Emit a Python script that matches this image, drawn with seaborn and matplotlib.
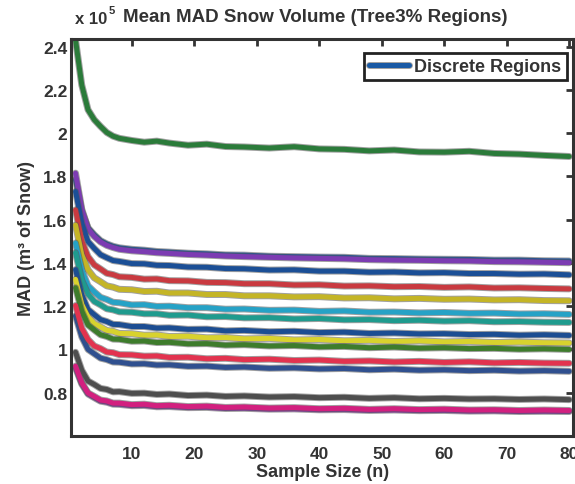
import numpy as np
import pandas as pd
import matplotlib
matplotlib.use("Agg")
import matplotlib.pyplot as plt
import matplotlib.patheffects as pe
from matplotlib.lines import Line2D
import seaborn as sns

# ---------------- data (MAD in units of 1e5 m^3) ----------------
n = [1, 2, 3, 4, 5, 6, 7, 8, 10, 12, 14, 16, 19, 22, 25, 28, 32, 36, 40,
     44, 48, 52, 56, 60, 64, 68, 72, 76, 80]

green = [2.430, 2.222, 2.108, 2.062, 2.031, 2.003, 1.986, 1.976, 1.966, 1.958, 1.963, 1.954, 1.944, 1.949, 1.938,
         1.936, 1.931, 1.937, 1.927, 1.925, 1.918, 1.922, 1.913, 1.912, 1.916, 1.906, 1.903, 1.897, 1.892]
blue_top = [1.785, 1.640, 1.562, 1.530, 1.503, 1.488, 1.477, 1.470, 1.463, 1.459, 1.453, 1.450, 1.445, 1.442, 1.437,
            1.436, 1.431, 1.429, 1.427, 1.426, 1.421, 1.420, 1.418, 1.417, 1.416, 1.413, 1.413, 1.410, 1.409]
purple = [1.815, 1.648, 1.558, 1.522, 1.497, 1.481, 1.471, 1.463, 1.456, 1.452, 1.447, 1.444, 1.439, 1.436, 1.432,
          1.429, 1.426, 1.423, 1.421, 1.419, 1.415, 1.413, 1.412, 1.410, 1.409, 1.406, 1.405, 1.403, 1.401]
darkblue1 = [1.730, 1.583, 1.499, 1.467, 1.438, 1.424, 1.411, 1.407, 1.397, 1.396, 1.389, 1.388, 1.381, 1.380, 1.374,
             1.373, 1.367, 1.368, 1.362, 1.362, 1.357, 1.358, 1.354, 1.355, 1.351, 1.351, 1.348, 1.349, 1.345]
red = [1.645, 1.502, 1.429, 1.391, 1.372, 1.352, 1.346, 1.336, 1.333, 1.325, 1.326, 1.318, 1.317, 1.310, 1.309,
       1.304, 1.304, 1.298, 1.299, 1.293, 1.294, 1.290, 1.291, 1.287, 1.289, 1.284, 1.285, 1.282, 1.280]
olive = [1.575, 1.437, 1.368, 1.331, 1.313, 1.294, 1.288, 1.278, 1.276, 1.268, 1.269, 1.261, 1.261, 1.254, 1.254,
         1.248, 1.248, 1.243, 1.244, 1.238, 1.239, 1.234, 1.236, 1.232, 1.233, 1.229, 1.230, 1.226, 1.225]
cyan = [1.492, 1.367, 1.294, 1.266, 1.241, 1.231, 1.218, 1.216, 1.206, 1.207, 1.199, 1.200, 1.193, 1.193, 1.186,
        1.187, 1.181, 1.182, 1.176, 1.178, 1.172, 1.173, 1.169, 1.171, 1.167, 1.168, 1.164, 1.165, 1.162]
teal = [1.447, 1.320, 1.256, 1.222, 1.206, 1.188, 1.183, 1.174, 1.172, 1.165, 1.165, 1.158, 1.159, 1.151, 1.152,
        1.146, 1.147, 1.141, 1.143, 1.137, 1.138, 1.133, 1.135, 1.131, 1.133, 1.128, 1.129, 1.126, 1.125]
darkblue2 = [1.369, 1.253, 1.185, 1.161, 1.138, 1.129, 1.116, 1.115, 1.106, 1.106, 1.099, 1.100, 1.093, 1.094, 1.086,
             1.088, 1.082, 1.084, 1.078, 1.080, 1.074, 1.076, 1.072, 1.073, 1.069, 1.070, 1.066, 1.068, 1.065]
yellow = [1.324, 1.208, 1.150, 1.119, 1.104, 1.088, 1.084, 1.074, 1.073, 1.066, 1.067, 1.060, 1.061, 1.054, 1.055,
          1.049, 1.051, 1.044, 1.046, 1.040, 1.042, 1.037, 1.040, 1.035, 1.037, 1.032, 1.034, 1.031, 1.030]
darkgreen = [1.285, 1.177, 1.113, 1.090, 1.068, 1.060, 1.048, 1.047, 1.038, 1.039, 1.032, 1.033, 1.026, 1.027, 1.020,
             1.022, 1.016, 1.018, 1.012, 1.014, 1.008, 1.011, 1.006, 1.008, 1.004, 1.005, 1.001, 1.003, 1.000]
pink = [1.203, 1.098, 1.046, 1.016, 1.004, 0.988, 0.985, 0.976, 0.975, 0.969, 0.970, 0.963, 0.964, 0.957, 0.959,
        0.953, 0.955, 0.949, 0.951, 0.945, 0.947, 0.942, 0.945, 0.940, 0.943, 0.938, 0.940, 0.937, 0.936]
navy = [1.155, 1.058, 1.000, 0.980, 0.960, 0.953, 0.942, 0.941, 0.933, 0.934, 0.928, 0.929, 0.922, 0.923, 0.917,
        0.919, 0.913, 0.915, 0.910, 0.912, 0.906, 0.909, 0.904, 0.906, 0.902, 0.904, 0.900, 0.902, 0.899]
gray = [0.987, 0.904, 0.854, 0.838, 0.820, 0.815, 0.804, 0.805, 0.797, 0.798, 0.792, 0.794, 0.787, 0.789, 0.783,
        0.785, 0.780, 0.782, 0.777, 0.779, 0.774, 0.777, 0.772, 0.774, 0.771, 0.772, 0.769, 0.771, 0.768]
purple2 = [0.915, 0.840, 0.794, 0.777, 0.761, 0.756, 0.747, 0.746, 0.740, 0.741, 0.735, 0.736, 0.731, 0.732, 0.727,
           0.728, 0.724, 0.725, 0.721, 0.722, 0.718, 0.720, 0.717, 0.718, 0.715, 0.716, 0.713, 0.714, 0.713]
magenta = [0.923, 0.846, 0.799, 0.783, 0.766, 0.762, 0.752, 0.752, 0.745, 0.747, 0.740, 0.742, 0.736, 0.738, 0.732,
           0.734, 0.729, 0.731, 0.726, 0.728, 0.723, 0.726, 0.722, 0.724, 0.720, 0.721, 0.718, 0.720, 0.718]

series = {
    "green": green, "blue_top": blue_top, "purple": purple, "darkblue1": darkblue1,
    "red": red, "olive": olive, "cyan": cyan, "teal": teal, "darkblue2": darkblue2,
    "yellow": yellow, "darkgreen": darkgreen, "navy": navy, "pink": pink,
    "gray": gray, "purple2": purple2, "magenta": magenta,
}
colors = {
    "green": "#2b7b3a", "blue_top": "#1f55a0", "purple": "#7c3cb2", "darkblue1": "#1b4f96",
    "red": "#c93a40", "olive": "#c4b526", "cyan": "#26a2c6", "teal": "#1f9b8e",
    "darkblue2": "#1c4d92", "yellow": "#d8d22e", "darkgreen": "#3e7c2c",
    "navy": "#30508f", "pink": "#e2334f", "gray": "#4e4e4e", "purple2": "#8a3aa8",
    "magenta": "#d2207f",
}
legend_label = "Discrete Regions"
title = "Mean MAD Snow Volume (Tree3% Regions)"
xlabel = "Sample Size (n)"
ylabel = "MAD (m³ of Snow)"
xticks = [10, 20, 30, 40, 50, 60, 70, 80]
yticks = [0.8, 1.0, 1.2, 1.4, 1.6, 1.8, 2.0, 2.2, 2.4]
yticklabels = ["0.8", "1", "1.2", "1.4", "1.6", "1.8", "2", "2.2", "2.4"]

rows = []
for name, vals in series.items():
    for xi, yi in zip(n, vals):
        rows.append((name, xi, yi))
df = pd.DataFrame(rows, columns=["region", "n", "mad"])

# ---------------- style ----------------
sns.set_style("white")
plt.rcParams["font.family"] = ["Liberation Sans", "DejaVu Sans"]
plt.rcParams["font.weight"] = "bold"

fig = plt.figure(figsize=(5.75, 4.85), dpi=100)
ax = fig.add_axes([0.1243, 0.099, 0.9965 - 0.1243, 0.9175 - 0.099])

outline = [pe.Stroke(linewidth=5.0, foreground="#555555", alpha=0.55), pe.Normal()]
sns.lineplot(data=df, x="n", y="mad", hue="region", palette=colors,
             hue_order=list(series.keys()), linewidth=3.6, legend=False,
             estimator=None, sort=False, ax=ax)

for ln in ax.lines:
    ln.set_path_effects(outline)
    ln.set_solid_joinstyle("round")

ax.set_xlim(0.35, 80.6)
ax.set_ylim(0.6, 2.435)
ax.set_xticks(xticks)
ax.set_xticklabels([str(t) for t in xticks])
ax.set_yticks(yticks)
ax.set_yticklabels(yticklabels)

for sp in ax.spines.values():
    sp.set_visible(True)
    sp.set_linewidth(2.2)
    sp.set_color("#333333")

ax.tick_params(axis="both", which="major", direction="in", length=5, width=2,
               color="#333333", top=True, right=True, labelsize=12.5,
               labelcolor="#333333")
ax.tick_params(axis="x", pad=7)
ax.tick_params(axis="y", pad=3)
for lab in ax.get_xticklabels() + ax.get_yticklabels():
    lab.set_fontweight("bold")

ax.set_xlabel(xlabel, fontsize=13, fontweight="bold", color="#333333", labelpad=2)
ax.set_ylabel(ylabel, fontsize=13, fontweight="bold", color="#333333", labelpad=6)
fig.text(315 / 575, 1 - 18 / 485, title, fontsize=13.5, fontweight="bold",
         color="#333333", ha="center", va="center")

fig.text(75 / 575, 1 - 20 / 485, "x 10", fontsize=12, fontweight="bold",
         color="#333333", ha="left", va="center")
fig.text(109 / 575, 1 - 11 / 485, "5", fontsize=8, fontweight="bold",
         color="#333333", ha="left", va="center")

handle = Line2D([0], [0], color="#1a5aa5", linewidth=3.6, path_effects=outline)
leg = ax.legend([handle], [legend_label], loc="upper right",
                bbox_to_anchor=(0.995, 0.975), fancybox=False, framealpha=1,
                edgecolor="#222222", prop={"size": 13, "weight": "bold"},
                handlelength=2.2, handletextpad=0.3, borderpad=0.3,
                borderaxespad=0.2)
leg.get_frame().set_linewidth(2.0)
for t in leg.get_texts():
    t.set_color("#333333")

fig.savefig("out.png", dpi=100)
